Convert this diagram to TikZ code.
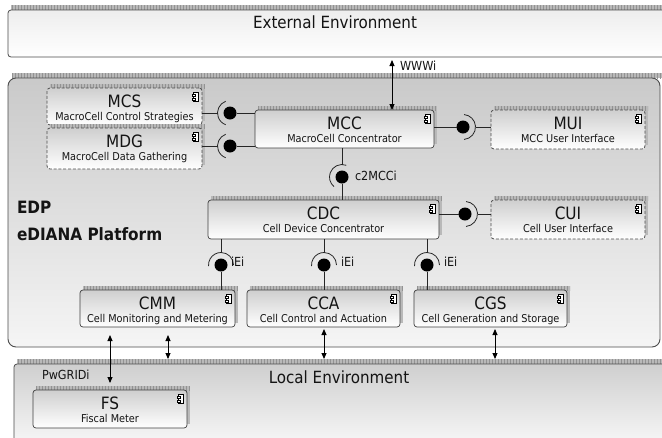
\documentclass[tikz,border=0pt]{standalone}
\usepackage{fontspec}
\setmainfont{DejaVu Sans Condensed}
\usetikzlibrary{arrows.meta,calc,patterns}
\tikzset{
  every node/.style={inner sep=0pt, outer sep=0pt, text=black!92},
  box/.style={rectangle, rounded corners=3pt, draw=black!75, line width=0.7pt, top color=gray!38, bottom color=white},
  dbox/.style={box, dash pattern=on 3pt off 1.8pt, draw=black!70, line width=0.8pt},
  ttl/.style={font=\fontsize{17}{17}\selectfont, anchor=base},
  sub/.style={font=\fontsize{10.8}{11}\selectfont, anchor=base},
  lbl/.style={font=\fontsize{12.5}{12.5}\selectfont},
  envlbl/.style={font=\fontsize{16.8}{17}\selectfont},
  edplbl/.style={font=\bfseries\fontsize{17}{17}\selectfont, anchor=base west},
  ball/.style={circle, fill=black, minimum size=13pt},
  conn/.style={line width=0.8pt, draw=black!85},
  arr/.style={line width=0.9pt, draw=black, {Triangle[length=6pt,width=5pt]}-{Triangle[length=6pt,width=5pt]}},
  shadowfill/.style={fill=gray!55},
  hatch/.style={pattern=vertical lines, pattern color=gray!85},
}
\newcommand\compicon[1]{%
  \draw[line width=0.4pt, fill=white] ($(#1.north east)+(-8.5,4.5)$) rectangle ++(5,9);
  \draw[line width=0.4pt, fill=white] ($(#1.north east)+(-10,6.5)$) rectangle ++(3,1.8);
  \draw[line width=0.4pt, fill=white] ($(#1.north east)+(-10,10)$) rectangle ++(3,1.8);
}
\newcommand\compbox[8]{%
  \fill[shadowfill] (#2+3,#3-4) rectangle (#4+3,#5-4);
  \fill[hatch] (#2+3,#3-4) rectangle (#4+3,#3);
  \node[#8, minimum width={(#4-#2)*1pt}, minimum height={(#5-#3)*1pt}] (#1) at ({(#2+#4)/2},{(#3+#5)/2}) {};
  \node[ttl] (#1t) at ($(#1.north)+(0,19.5)$) {#6};
  \node[sub] (#1s) at ($(#1.north)+(0,32.5)$) {#7};
  \compicon{#1}%
}
\begin{document}
\begin{tikzpicture}[x=1pt, y=-1pt]
\useasboundingbox (0,0) rectangle (662,437);
\clip (0,0) rectangle (662,437);
\fill[white] (0,0) rectangle (662,437);

% External environment
\fill[shadowfill] (11,5) rectangle (720,10);
\fill[hatch] (11,5) rectangle (720,10);
\node[rectangle, rounded corners=3pt, draw=black!70, line width=0.8pt, top color=gray!14, middle color=gray!30, bottom color=white,
      minimum width=712pt, minimum height=47pt] (ext) at (364,33.5) {};
\node[envlbl] (extT) at (335,22) {External Environment};

% EDP platform
\fill[shadowfill] (12,73) rectangle (664,78);
\fill[hatch] (12,73) rectangle (664,78);
\node[rectangle, rounded corners=8pt, draw=black!70, line width=0.9pt, top color=gray!42, bottom color=gray!8,
      minimum width=652pt, minimum height=269pt] (edp) at (334,212.5) {};
\node[edplbl] (edpA) at (17,213) {EDP};
\node[edplbl] (edpB) at (17,240) {eDIANA Platform};

% Local environment
\fill[shadowfill] (17,359) rectangle (720,364);
\fill[hatch] (17,359) rectangle (720,364);
\node[rectangle, rounded corners=3pt, draw=black!70, line width=0.8pt, top color=gray!38, bottom color=gray!4,
      minimum width=706pt, minimum height=86pt] (loc) at (367,407) {};
\node[envlbl] (locT) at (339,377) {Local Environment};
\node[lbl, anchor=west] (pw) at (42,375) {PwGRIDi};

% components
\compbox{MCS}{47}{88}{202}{125}{MCS}{MacroCell Control Strategies}{dbox}
\compbox{MDG}{47}{128}{202}{169}{MDG}{MacroCell Data Gathering}{dbox}
\compbox{MCC}{255}{110}{434}{148}{MCC}{MacroCell Concentrator}{box}
\compbox{MUI}{491}{110}{645}{149}{MUI}{MCC User Interface}{dbox}
\compbox{CDC}{208}{200}{439}{239}{CDC}{Cell Device Concentrator}{box}
\compbox{CUI}{491}{200}{645}{239}{CUI}{Cell User Interface}{dbox}
\compbox{CMM}{80}{290}{235}{327}{CMM}{Cell Monitoring and Metering}{box}
\compbox{CCA}{247}{290}{400}{327}{CCA}{Cell Control and Actuation}{box}
\compbox{CGS}{414}{290}{567}{327}{CGS}{Cell Generation and Storage}{box}
\compbox{FS}{33}{390}{187}{428}{FS}{Fiscal Meter}{box}

% balls
\node[ball] (b1) at (230,113) {};
\node[ball] (b2) at (230,146) {};
\node[ball] (b3) at (463,127) {};
\node[ball] (b4) at (342,177) {};
\node[ball] (b5) at (465,214) {};
\node[ball] (b6) at (221,265) {};
\node[ball] (b7) at (324,265) {};
\node[ball] (b8) at (427,265) {};

% sockets
\draw[conn] ($(b1)+(110:12.5pt)$) arc[start angle=110, end angle=250, radius=12.5pt];
\draw[conn] ($(b2)+(110:12.5pt)$) arc[start angle=110, end angle=250, radius=12.5pt];
\draw[conn] ($(b3)+(-85:12.5pt)$) arc[start angle=-85, end angle=85, radius=12.5pt];
\draw[conn] ($(b5)+(-85:12.5pt)$) arc[start angle=-85, end angle=85, radius=12.5pt];
\draw[conn] ($(b4)+(70:12.5pt)$) arc[start angle=70, end angle=230, radius=12.5pt];
\draw[conn] ($(b6)+(0:12.5pt)$) arc[start angle=0, end angle=185, radius=12.5pt];
\draw[conn] ($(b7)+(0:12.5pt)$) arc[start angle=0, end angle=185, radius=12.5pt];
\draw[conn] ($(b8)+(0:12.5pt)$) arc[start angle=0, end angle=185, radius=12.5pt];

% connectors
\draw[conn] (MCS.east|-b1) -- ($(b1)+(-12.5,0)$);
\draw[conn] (b1) -- (MCC.west|-b1);
\draw[conn] (MDG.east|-b2) -- ($(b2)+(-12.5,0)$);
\draw[conn] (b2) -- (MCC.west|-b2);
\draw[conn] (MCC.east|-b3) -- (b3);
\draw[conn] ($(b3)+(12.5,0)$) -- (MUI.west|-b3);
\draw[conn] (MCC.south-|b4) -- ($(b4)+(0,-12.5)$);
\draw[conn] (b4) -- (CDC.north-|b4);
\draw[conn] (CDC.east|-b5) -- (b5);
\draw[conn] ($(b5)+(12.5,0)$) -- (CUI.west|-b5);
\draw[conn] (CDC.south-|b6) -- ($(b6)+(0,-12.5)$);
\draw[conn] (b6) -- (CMM.north-|b6);
\draw[conn] (CDC.south-|b7) -- ($(b7)+(0,-12.5)$);
\draw[conn] (b7) -- (CCA.north-|b7);
\draw[conn] (CDC.south-|b8) -- ($(b8)+(0,-12.5)$);
\draw[conn] (b8) -- (CGS.north-|b8);

% labels
\node[lbl, anchor=west] (c2) at (355,176) {c2MCCi};
\node[lbl, anchor=west] (i1) at (231,262) {iEi};
\node[lbl, anchor=west] (i2) at (341,262) {iEi};
\node[lbl, anchor=west] (i3) at (444,262) {iEi};
\node[lbl, anchor=west] (www) at (400,66) {WWWi};

% arrows
\coordinate (ax0) at (392,0);
\coordinate (ax1) at (110,0);
\coordinate (ax2) at (168,0);
\coordinate (ax3) at (324,0);
\coordinate (ax4) at (495,0);
\draw[arr, shorten <=3pt] (ext.south-|ax0) -- (MCC.north-|ax0);
\draw[arr, shorten <=8pt, shorten >=7pt] (CMM.south-|ax1) -- (FS.north-|ax1);
\draw[arr, shorten <=8pt, shorten >=5pt] (CMM.south-|ax2) -- (loc.north-|ax2);
\draw[arr, shorten <=2pt, shorten >=5pt] (CCA.south-|ax3) -- (loc.north-|ax3);
\draw[arr, shorten <=2pt, shorten >=5pt] (CGS.south-|ax4) -- (loc.north-|ax4);
\end{tikzpicture}
\end{document}
